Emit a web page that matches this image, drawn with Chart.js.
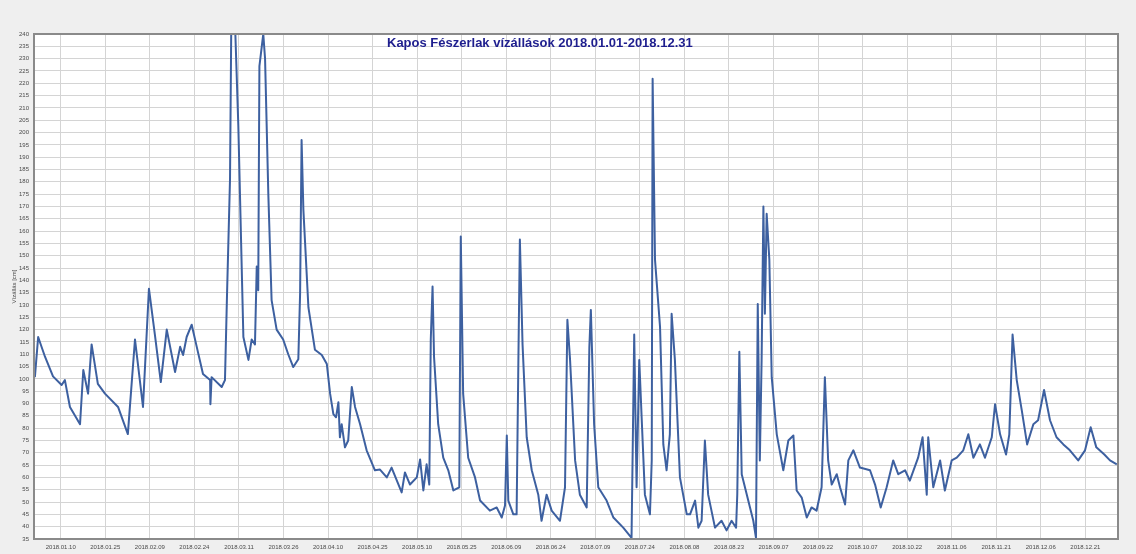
<!DOCTYPE html>
<html>
<head>
<meta charset="utf-8">
<script src="https://cdn.jsdelivr.net/npm/chart.js@4/dist/chart.umd.min.js"></script>
<style>
  html, body { margin: 0; padding: 0; background: #efefef; }
  #wrap { position: relative; width: 1136px; height: 554px; }
  #title {
    position: absolute; left: 387px; top: 35px;
    font: bold 13px "Liberation Sans", Arial, sans-serif; color: #1e1e8e;
    white-space: nowrap;
  }
</style>
</head>
<body>
<div id="wrap">
  <canvas id="chart" width="1136" height="554"></canvas>
  <div id="title">Kapos Fészerlak vízállások 2018.01.01-2018.12.31</div>
</div>
<script>
// water level readings, x = day of year (0 = 2018.01.01 00:00)
var levelDays = [
  0.3, 1.4, 3.7, 6.4, 9.3, 10.4, 12.1, 15.5, 16.6, 18.2, 19.4, 21.5, 23.9, 28.3, 31.6,
  34.0, 36.7, 38.7, 40.7, 42.7, 44.7, 47.5, 49.2, 50.2, 51.4, 53.1, 54.8, 56.9,
  59.3, 59.4, 59.8, 63.2, 64.3, 65.0, 66.0, 66.4, 67.8, 68.8, 70.5, 72.2, 73.3, 74.4,
  75.0, 75.5, 75.9, 76.7, 77.2, 77.8, 78.9, 80.0, 81.7, 83.9, 85.6, 87.3, 89.0, 89.6,
  90.1, 90.7, 92.4, 94.6, 96.9, 98.6, 99.7, 100.8, 101.7, 102.5, 103.0, 103.6, 104.7,
  105.8, 107.0, 108.1, 109.8, 112.0, 114.8, 116.5, 118.8, 120.4, 123.8, 124.9, 126.6,
  128.9, 130.0, 131.1, 132.2, 133.1, 133.6, 134.2, 134.7, 136.1, 137.8, 139.5, 141.2,
  143.2, 143.7, 144.5, 146.2, 148.5, 150.2, 153.5, 155.8, 157.5, 158.6, 159.2, 159.7,
  161.4, 162.5, 163.1, 163.6, 164.5, 165.9, 167.6, 169.8, 170.9, 172.6, 174.3, 177.1,
  178.8, 179.6, 180.5, 182.2, 183.8, 186.1, 187.0, 187.5, 188.6, 190.0, 192.8, 195.1,
  198.4, 201.2, 202.1, 202.9, 203.8, 204.6, 205.7, 207.4, 208.0, 208.3, 209.1, 210.8,
  211.9, 213.0, 214.1, 214.7, 215.8, 217.5, 219.8, 220.9, 222.6, 223.7, 224.8, 225.9,
  227.0, 229.3, 231.5, 233.2, 234.9, 236.4, 236.8, 237.5, 238.3, 240.5, 242.2, 243.1,
  243.7, 244.4, 245.0, 245.6, 246.1, 246.7, 247.6, 248.4, 250.1, 252.3, 254.0, 255.7,
  256.8, 258.5, 260.2, 261.8, 263.5, 265.2, 266.3, 267.4, 268.6, 270.3, 271.4, 273.1,
  274.2, 275.9, 278.1, 281.5, 283.2, 285.1, 287.1, 289.3, 291.0, 293.3, 294.9, 297.7,
  299.2, 300.6, 301.1, 302.8, 305.1, 306.7, 309.0, 310.7, 312.9, 314.6, 316.3, 318.5,
  320.2, 322.5, 323.6, 325.3, 327.3, 328.4, 329.5, 330.9, 332.6, 334.4, 336.5, 338.1,
  340.1, 342.1, 344.3, 346.6, 348.8, 351.6, 353.9, 355.8, 357.7, 360.4, 362.3, 364.6
];
var levels = [
  100.7, 117, 109, 101, 97.5, 99.5, 88.6, 81.6, 103.6, 94, 114, 98, 94, 88.6, 77.6,
  116, 88.6, 136.6, 118, 98.7, 120, 102.8, 113, 109.7, 117, 122, 113, 102,
  99.5, 89.7, 100.7, 96.7, 99.5, 134.6, 181, 240, 240, 202.7, 117, 107.7, 116, 114,
  145.6, 136, 227, 235, 240, 230, 175, 132, 120, 116, 110, 104.8, 108, 134.6,
  197, 168.8, 129, 111.8, 109.7, 106, 94, 85.7, 84.4, 90.5, 76.3, 81.6, 72.2,
  75, 96.7, 88.6, 81.6, 71, 62.9, 63.2, 60, 64, 53.9, 62, 57.1,
  60, 67.3, 54.7, 65.3, 57.1, 116, 137.5, 109, 81.6, 68, 62.9, 54.7,
  56, 157.8, 94, 68, 60, 50.6, 46.5, 47.8, 43.7, 48.6, 77, 50.6,
  45, 45, 107.7, 156.6, 114, 76.3, 62.9, 53, 42.4, 53, 46.5, 42.4,
  56, 124, 107.7, 66.9, 53, 47.8, 113, 128, 81.6, 56, 50.6, 43.7,
  39.6, 35.5, 118, 56, 107.7, 84.4, 53, 45, 66.9, 221.8, 148.4, 121,
  73.4, 62.9, 77.5, 126.4, 107.7, 60, 45, 45, 50.6, 39.6, 42.4, 75,
  53, 39.6, 42.4, 38.5, 42.4, 39.6, 53, 111, 61.3, 50.6, 42.4, 35.5,
  130.4, 66.9, 107.7, 170, 126.4, 167, 148.4, 100.7, 77.5, 62.9, 75, 77,
  54.7, 51.8, 43.7, 47.8, 46.5, 56, 100.7, 66.9, 57.1, 61.3, 56, 49,
  66.9, 71, 64, 62.9, 57.1, 47.8, 56, 66.9, 61.3, 62.9, 58.7, 68,
  76.3, 53, 76.3, 56, 66.9, 54.7, 66.9, 68, 71, 77.5, 68, 73.4,
  68, 76.3, 89.7, 77.5, 69.3, 77.5, 118, 99.5, 87.2, 73.4, 81.6, 83.2,
  95.5, 83.2, 76.3, 73.4, 71, 66.9, 71, 80.4, 72.2, 69.3, 66.9, 65.3
];
var xTickLabels = [
  '2018.01.10', '2018.01.25', '2018.02.09', '2018.02.24', '2018.03.11', '2018.03.26',
  '2018.04.10', '2018.04.25', '2018.05.10', '2018.05.25', '2018.06.09', '2018.06.24',
  '2018.07.09', '2018.07.24', '2018.08.08', '2018.08.23', '2018.09.07', '2018.09.22',
  '2018.10.07', '2018.10.22', '2018.11.06', '2018.11.21', '2018.12.06', '2018.12.21'
];

var LINE_COLOR = '#3d60a0';
var GRID_COLOR = '#d4d4d4';
var FRAME_COLOR = '#8a8a8a';
var TICK_COLOR = '#4a4a4a';

function dayOfYear(label) {
  var p = label.split('.');
  var t = Date.UTC(+p[0], +p[1] - 1, +p[2]);
  return (t - Date.UTC(+p[0], 0, 1)) / 86400000;
}
var xTickDays = xTickLabels.map(dayOfYear);

// white plot area on the grey page, grey frame round it
var plotBackground = {
  id: 'plotBackground',
  beforeDraw: function (chart) {
    var a = chart.chartArea, ctx = chart.ctx;
    ctx.save();
    ctx.fillStyle = '#ffffff';
    ctx.fillRect(a.left, a.top, a.right - a.left, a.bottom - a.top);
    ctx.restore();
  },
  afterDraw: function (chart) {
    var a = chart.chartArea, ctx = chart.ctx;
    ctx.save();
    ctx.strokeStyle = FRAME_COLOR;
    ctx.lineWidth = 2;
    ctx.strokeRect(a.left, a.top, a.right - a.left, a.bottom - a.top);
    ctx.restore();
  }
};

Chart.defaults.font.family = "'Liberation Sans', Arial, sans-serif";

new Chart(document.getElementById('chart'), {
  type: 'line',
  data: {
    datasets: [{
      data: levelDays.map(function (d, i) { return { x: d, y: levels[i] }; }),
      borderColor: LINE_COLOR,
      borderWidth: 2,
      borderJoinStyle: 'round',
      pointRadius: 0,
      tension: 0,
      fill: false
    }]
  },
  options: {
    responsive: false,
    animation: false,
    layout: { padding: { top: 34, right: 18, left: 0, bottom: 0 } },
    plugins: { legend: { display: false }, tooltip: { enabled: false } },
    scales: {
      x: {
        type: 'linear',
        min: 0,
        max: 365,
        afterBuildTicks: function (scale) {
          scale.ticks = xTickDays.map(function (d) { return { value: d }; });
        },
        afterFit: function (scale) { scale.height = 15; },
        grid: { color: GRID_COLOR, drawTicks: false },
        border: { display: false },
        ticks: {
          autoSkip: false,
          maxRotation: 0,
          padding: 5,
          color: TICK_COLOR,
          font: { size: 6 },
          callback: function (v) {
            var i = xTickDays.indexOf(v);
            return i >= 0 ? xTickLabels[i] : '';
          }
        }
      },
      y: {
        min: 35,
        max: 240,
        afterFit: function (scale) { scale.width = 34; },
        grid: { color: GRID_COLOR, drawTicks: false },
        border: { display: false },
        title: {
          display: true,
          text: 'Vízállás [cm]',
          color: TICK_COLOR,
          font: { size: 6 },
          padding: { top: 11, bottom: 0 }
        },
        ticks: {
          stepSize: 5,
          autoSkip: false,
          padding: 5,
          color: TICK_COLOR,
          font: { size: 6 }
        }
      }
    }
  },
  plugins: [plotBackground]
});
</script>
</body>
</html>
